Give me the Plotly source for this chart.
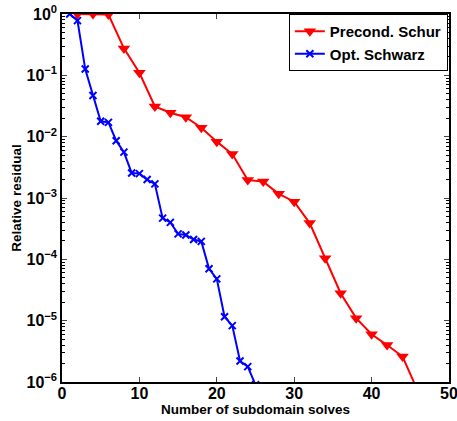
import plotly.graph_objects as go

schur_x = [2, 4, 6, 8, 10, 12, 14, 16, 18, 20, 22, 24, 26, 28, 30, 32, 34, 36, 38, 40, 42, 44, 46]
schur_y = [1.0, 1.0, 0.98, 0.275, 0.11, 0.031, 0.0246, 0.0207, 0.014, 0.0083, 0.0052, 0.00196,
           0.00185, 0.00117, 0.00087, 3.9e-4, 1.04e-4, 2.8e-5, 1.1e-5, 6e-6, 4e-6, 2.6e-6, 7e-7]

schwarz_x = list(range(1, 26))
schwarz_y = [1.0, 0.78, 0.127, 0.047, 0.0178, 0.0171, 0.0086, 0.0056, 0.00256, 0.0025, 0.0020,
             0.0017, 4.7e-4, 4.0e-4, 2.6e-4, 2.5e-4, 2.1e-4, 1.96e-4, 7.0e-5, 4.8e-5, 1.16e-5,
             8.3e-6, 2.2e-6, 1.78e-6, 9e-7]

x_ticks = [0, 10, 20, 30, 40, 50]
y_tickvals = [1, 1e-1, 1e-2, 1e-3, 1e-4, 1e-5, 1e-6]
y_ticktext = ["10<sup>0</sup>", "10<sup>−1</sup>", "10<sup>−2</sup>", "10<sup>−3</sup>",
              "10<sup>−4</sup>", "10<sup>−5</sup>", "10<sup>−6</sup>"]
decades = [-6, -5, -4, -3, -2, -1]
minor_mults = [2, 3, 4, 5, 6, 7, 8, 9]
y_minor = [m * 10.0 ** d for d in decades for m in minor_mults]

FONT = "Liberation Sans, Arial, sans-serif"

fig = go.Figure()
fig.add_trace(go.Scatter(
    x=schur_x, y=schur_y, mode="lines+markers", name="Precond. Schur",
    line=dict(color="#ff0000", width=2),
    marker=dict(symbol="triangle-down", size=11, color="#ff0000"),
))
fig.add_trace(go.Scatter(
    x=schwarz_x, y=schwarz_y, mode="lines+markers", name="Opt. Schwarz",
    line=dict(color="#0000ff", width=2),
    marker=dict(symbol="x-thin", size=7, color="#0000ff", line=dict(color="#0000ff", width=2)),
))
# invisible trace to activate the minor-tick overlay axis
fig.add_trace(go.Scatter(x=[None], y=[None], yaxis="y2", showlegend=False, hoverinfo="skip"))

fig.update_layout(
    width=457, height=421,
    margin=dict(l=62, r=8, t=14, b=39),
    paper_bgcolor="white", plot_bgcolor="white",
    font=dict(family=FONT, color="black", weight="bold"),
    showlegend=True,
    legend=dict(
        x=0.997, y=1.0, xanchor="right", yanchor="top",
        bordercolor="black", borderwidth=1, bgcolor="white",
        font=dict(family=FONT, size=15, weight="bold", color="black"),
        tracegroupgap=0, itemwidth=30,
    ),
    xaxis=dict(
        range=[0, 50], tickvals=x_ticks, ticks="inside", ticklen=5, tickwidth=1,
        showline=True, linecolor="black", linewidth=1.5, mirror="ticks",
        showgrid=False, zeroline=False, automargin=False, ticklabelstandoff=-4,
        ticklabeloverflow="allow",
        tickfont=dict(family=FONT, size=16, weight="bold"),
        title=dict(text="Number of subdomain solves", standoff=0,
                   font=dict(family=FONT, size=13.5, weight="bold")),
    ),
    yaxis=dict(
        type="log", range=[-6, 0], tickvals=y_tickvals, ticktext=y_ticktext,
        ticks="inside", ticklen=5, tickwidth=1,
        showline=True, linecolor="black", linewidth=1.5, mirror="ticks",
        showgrid=False, zeroline=False, automargin=False, ticklabeloverflow="allow",
        tickfont=dict(family=FONT, size=16, weight="bold"),
        title=dict(text="Relative residual", standoff=2,
                   font=dict(family=FONT, size=13.5, weight="bold")),
    ),
    yaxis2=dict(
        type="log", range=[-6, 0], overlaying="y", side="left",
        tickvals=y_minor, ticks="inside", ticklen=3, tickwidth=1, tickcolor="black",
        showticklabels=False, showline=True, linecolor="black", linewidth=1.5,
        mirror="ticks", showgrid=False, zeroline=False, automargin=False,
    ),
)

fig.write_html("out.html", config={"displayModeBar": False},
               post_script="document.body.style.margin='0px';document.body.style.overflow='hidden';")
